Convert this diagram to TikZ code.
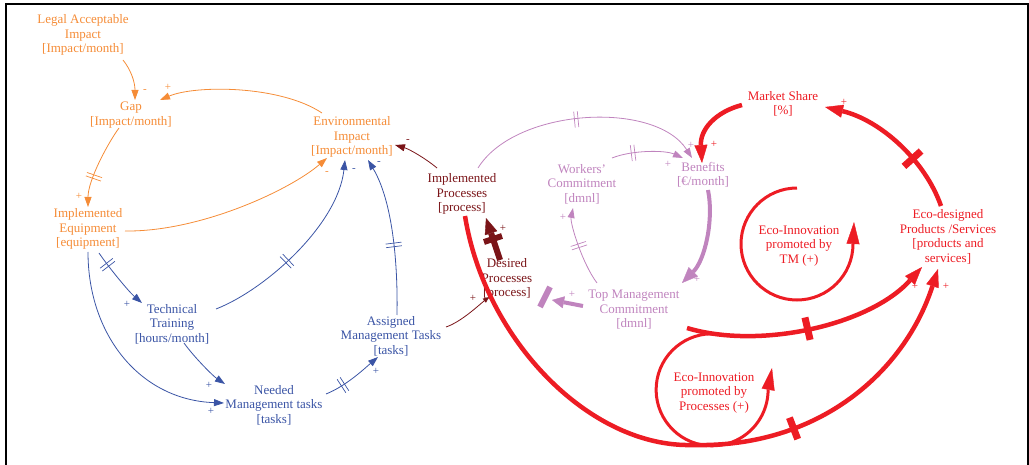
\documentclass[tikz,border=0pt]{standalone}
\usepackage{fontspec}
\setmainfont{Liberation Serif}
\usetikzlibrary{arrows.meta,decorations.markings,calc}

\definecolor{cO}{RGB}{245,140,55}
\definecolor{cB}{RGB}{58,84,165}
\definecolor{cD}{RGB}{122,20,24}
\definecolor{cP}{RGB}{192,132,190}
\definecolor{cR}{RGB}{237,28,36}

\begin{document}
\begin{tikzpicture}[x=1pt,y=-1pt,
  every node/.style={font=\fontsize{13}{14.5}\selectfont, align=center, inner sep=0pt},
  sgn/.style={font=\fontsize{11}{11}\selectfont},
  % thin and thick connector styles
  lnO/.style={color=cO, line width=0.8pt},
  lnB/.style={color=cB, line width=0.8pt},
  lnD/.style={color=cD, line width=0.8pt},
  lnP/.style={color=cP, line width=0.8pt},
  thkP/.style={color=cP, line width=4pt},
  thkR/.style={color=cR, line width=4.5pt},
  thkD/.style={color=cD, line width=6pt},
  loopR/.style={color=cR, line width=3pt},
  arrS/.style={-{Triangle[length=10pt,width=7pt]}},
  arrR/.style={-{Triangle[length=18pt,width=13pt,line width=0.4pt]}},
  arrL/.style={-{Triangle[length=22pt,width=13pt,line width=0.4pt]}},
  arrP/.style={-{Triangle[length=16pt,width=13pt,line width=0.4pt]}},
  arrP2/.style={-{Triangle[length=12pt,width=12pt,line width=0.4pt]}},
  arrD/.style={-{Triangle[length=16pt,width=13pt,line width=0.4pt]}},
  % delay marks: double stroke for thin links, solid bar for thick links
  dly/.style={postaction={decorate,decoration={markings,
      mark=at position #1 with {\draw[-,line width=0.7pt] (-1.8pt,-8pt)--(-1.8pt,8pt) (1.8pt,-8pt)--(1.8pt,8pt);}}}},
  dlyT/.style={postaction={decorate,decoration={markings,
      mark=at position #1 with {\fill (-3.5pt,-11.5pt) rectangle (3.5pt,11.5pt);}}}},
  dlyD/.style={postaction={decorate,decoration={markings,
      mark=at position #1 with {\fill (-3pt,-9.5pt) rectangle (3pt,9.5pt);}}}}
]
\useasboundingbox (0,0) rectangle (1029,465);
\draw[line width=2pt] (5.5,465) -- (5.5,4) -- (1027.5,4) -- (1027.5,465);

% variables
\node[text=cO] (leg)   at (83,35)   {Legal Acceptable\\Impact\\{}[Impact/month]};
\node[text=cO] (gap)   at (131,115) {Gap\\{}[Impact/month]};
\node[text=cO] (equip) at (88,229)  {Implemented\\Equipment\\{}[equipment]};
\node[text=cO] (env)   at (352,137) {Environmental\\Impact\\{}[Impact/month]};
\node[text=cB] (tt)    at (172,324) {Technical\\Training\\{}[hours/month]};
\node[text=cB] (nmt)   at (274,405) {Needed\\Management tasks\\{}[tasks]};
\node[text=cB] (amt)   at (391,336) {Assigned\\Management Tasks\\{}[tasks]};
\node[text=cD] (ip)    at (462,194) {Implemented\\Processes\\{}[process]};
\node[text=cD] (dp)    at (507,279) {Desired\\Processes\\{}[process]};
\node[text=cP] (wc)    at (582,184) {Workers'\\Commitment\\{}[dmnl]};
\node[text=cP] (ben)   at (703,175) {Benefits\\{}[€/month]};
\node[text=cP] (tmc)   at (634,310) {Top Management\\Commitment\\{}[dmnl]};
\node[text=cR] (ms)    at (783,104) {Market Share\\{}[\%]};
\node[text=cR] (eco)   at (948,237) {Eco-designed\\Products /Services\\{}[products and\\services]};
\node[text=cR] (loopTM) at (799,246) {Eco-Innovation\\promoted by\\TM (+)};
\node[text=cR] (loopP)  at (714,393) {Eco-Innovation\\promoted by\\Processes (+)};

% orange links
\draw[lnO,arrS] ($(leg)+(40,25)$) .. controls +(8,10) and +(0,-18) .. ($(gap)+(4,-15)$);
\draw[lnO,arrS] ($(env)+(-30,-24)$) .. controls +(-42,-28) and +(35,-15) .. ($(gap)+(29,-15)$);
\draw[lnO,arrS,dly=0.64] ($(gap)+(-12,13)$) .. controls +(-11,15) and +(0,-27) .. ($(equip)+(0,-22)$);
\draw[lnO,arrS] ($(equip)+(37,2)$) .. controls +(75,1) and +(-37,32) .. ($(env)+(-25,21)$);

% blue links
\draw[lnB,arrS,dly=0.22] ($(equip)+(11,24)$) .. controls +(8,12) and +(-14,-12) .. ($(tt)+(-30,-21)$);
\draw[lnB,arrS] ($(equip)+(0,23)$) .. controls +(0,83) and +(-84,-3) .. ($(nmt)+(-50,-2)$);
\draw[lnB,arrS] ($(tt)+(12,19)$) .. controls +(10,14) and +(-12,-8) .. ($(nmt)+(-49,-21)$);
\draw[lnB,arrS,dly=0.3] ($(nmt)+(52,-11)$) .. controls +(20,-8) and +(-14,12) .. ($(amt)+(-13,21)$);
\draw[lnB,arrS,dly=0.42] ($(tt)+(44,-15)$) .. controls +(49,-19) and +(-7,65) .. ($(env)+(-7,23)$);
\draw[lnB,arrS,dly=0.44] ($(amt)+(6,-21)$) .. controls +(1,-55) and +(24,40) .. ($(env)+(16,23)$);

% dark red links
\draw[lnD,arrS] ($(ip)+(-25,-26)$) .. controls +(-12,-10) and +(14,4) .. ($(env)+(43,8)$);
\draw[lnD,-{Triangle[length=6pt,width=5pt]}] ($(amt)+(55,-9)$) .. controls +(15,-5) and +(-10,8) .. ($(dp)+(-18,18)$);
\draw[thkD,arrD,dlyD=0.5] ($(dp)+(-7,-19)$) -- ($(ip)+(24,24)$);

% pink links
\draw[lnP,arrS,dly=0.47] ($(ip)+(16,-26)$) .. controls +(37,-60) and +(-37,-58) .. ($(ben)+(-11,-17)$);
\draw[lnP,arrS,dly=0.3] ($(wc)+(30,-26)$) .. controls +(20,-8) and +(-18,-8) .. ($(ben)+(-20,-17)$);
\draw[thkP,arrP] ($(ben)+(5,15)$) .. controls +(6,30) and +(23,-23) .. ($(tmc)+(48,-27)$);
\draw[lnP,arrS,dly=0.52] ($(tmc)+(-37,-27)$) .. controls +(-15,-20) and +(-3,15) .. ($(wc)+(-9,24)$);
\draw[thkP,arrP2] ($(tmc)+(-51,-4)$) -- ($(dp)+(45,21)$);
\draw[color=cP,line width=6pt] ($(dp)+(33,28)$) -- ($(dp)+(43,8)$);

% red links
\draw[thkR,arrR] ($(ms)+(-41,1)$) .. controls +(-27,7) and +(-2,-33) .. ($(ben)+(-1,-12)$);
\draw[thkR,arrR,dlyT=0.35] ($(eco)+(-7,-31)$) .. controls +(-16,-46) and +(55,13) .. ($(ms)+(42,3)$);
\draw[thkR,arrR,dlyT=0.48] ($(tmc)+(53,18)$) .. controls +(73,22) and +(-52,58) .. ($(eco)+(-26,30)$);
\draw[thkR,arrR,dlyT=0.67] ($(ip)+(3,22)$) .. controls +(20,124) and (590,448) .. (693,445)
   .. controls (820,448) and +(-33,102) .. ($(eco)+(-10,32)$);
\draw[loopR,arrL] ($(loopTM)+(-2,-58)$) arc[start angle=-90,end angle=-360,radius=56] -- ($(loopTM)+(55,-24)$);
\draw[loopR,arrL] ($(loopP)+(3,-59)$) arc[start angle=-85,end angle=-360,radius=56] -- ($(loopP)+(58,-25)$);

% polarity signs
\node[sgn,text=cO] (s1)  at (145,91)  {-};
\node[sgn,text=cO] (s2)  at (168,87)  {+};
\node[sgn,text=cO] (s3)  at (79,196)  {+};
\node[sgn,text=cO] (s4)  at (327,173) {-};
\node[sgn,text=cB] (s5)  at (354,170) {-};
\node[sgn,text=cB] (s6)  at (379,163) {-};
\node[sgn,text=cB] (s7)  at (127,304) {+};
\node[sgn,text=cB] (s8)  at (211,411) {+};
\node[sgn,text=cB] (s9)  at (209,385) {+};
\node[sgn,text=cB] (s10) at (376,371) {+};
\node[sgn,text=cD] (s11) at (408,141) {-};
\node[sgn,text=cD] (s12) at (473,298) {+};
\node[sgn,text=cD] (s13) at (503,228) {+};
\node[sgn,text=cP] (s14) at (691,145) {+};
\node[sgn,text=cP] (s15) at (668,164) {+};
\node[sgn,text=cP] (s16) at (697,279) {+};
\node[sgn,text=cP] (s17) at (563,217) {+};
\node[sgn,text=cP] (s18) at (572,294) {+};
\node[sgn,text=cR] (s19) at (714,144) {+};
\node[sgn,text=cR] (s20) at (844,102) {+};
\node[sgn,text=cR] (s21) at (915,286) {+};
\node[sgn,text=cR] (s22) at (946,286) {+};
\end{tikzpicture}
\end{document}
